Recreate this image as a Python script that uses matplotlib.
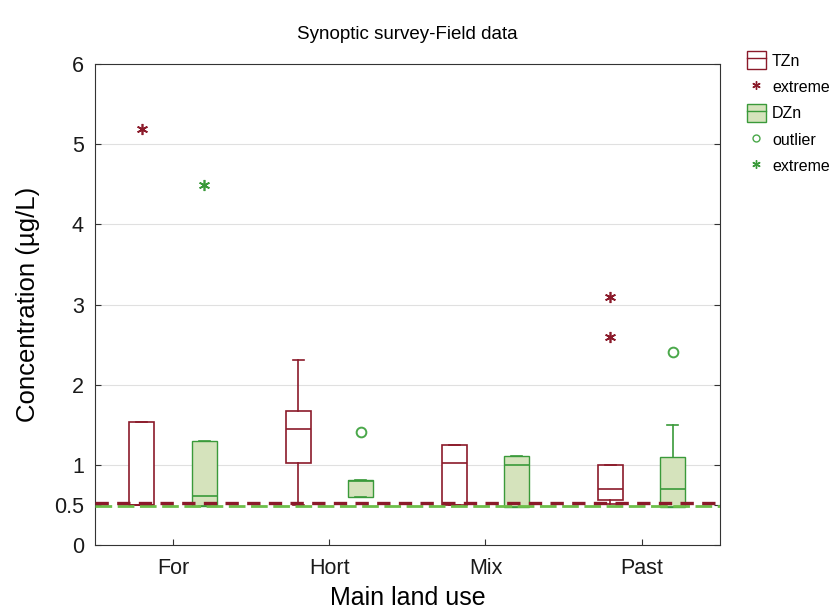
import matplotlib
matplotlib.use("Agg")
import matplotlib.pyplot as plt
from matplotlib.patches import Patch
from matplotlib.lines import Line2D
from matplotlib.legend_handler import HandlerTuple

plt.rcParams["font.family"] = ["Liberation Sans", "DejaVu Sans"]

categories = ["For", "Hort", "Mix", "Past"]

# box stats: (whislo, q1, med, q3, whishi)
tzn_stats = [
    (0.50, 0.50, 0.50, 1.53, 1.53),
    (0.50, 1.03, 1.45, 1.67, 2.31),
    (0.50, 0.50, 1.02, 1.25, 1.25),
    (0.52, 0.56, 0.70, 1.00, 1.00),
]
dzn_stats = [
    (0.49, 0.49, 0.61, 1.30, 1.30),
    (0.60, 0.60, 0.80, 0.81, 0.81),
    (0.48, 0.48, 1.00, 1.11, 1.11),
    (0.48, 0.48, 0.70, 1.10, 1.50),
]

tzn_extremes = [(0, 5.19), (3, 3.09), (3, 2.60)]
dzn_outliers = [(1, 1.41), (3, 2.41)]
dzn_extremes = [(0, 4.49)]

tzn_limit = 0.53
dzn_limit = 0.49

red = "#8b1a2a"
green = "#3a9a3a"
green_fill = "#d5e3bc"
ast = (6, 2, 0)
off = 0.2

fig = plt.figure(figsize=(8.34, 6.14), dpi=100)
ax = fig.add_axes([0.114, 0.112, 0.749, 0.784])


def make_stats(rows):
    return [dict(whislo=a, q1=b, med=c, q3=d, whishi=e, fliers=[]) for a, b, c, d, e in rows]


pos = range(len(categories))
ax.bxp(make_stats(tzn_stats), positions=[p + 0.5 - off for p in pos], widths=0.16,
       patch_artist=True, showfliers=False,
       boxprops=dict(facecolor="white", edgecolor=red, linewidth=1.2),
       medianprops=dict(color=red, linewidth=1.2),
       whiskerprops=dict(color=red, linewidth=1.2),
       capprops=dict(color=red, linewidth=1.2), capwidths=0.07)
ax.bxp(make_stats(dzn_stats), positions=[p + 0.5 + off for p in pos], widths=0.16,
       patch_artist=True, showfliers=False,
       boxprops=dict(facecolor=green_fill, edgecolor=green, linewidth=1.0),
       medianprops=dict(color=green, linewidth=1.2),
       whiskerprops=dict(color=green, linewidth=1.2),
       capprops=dict(color=green, linewidth=1.2), capwidths=0.07)

ax.axhline(dzn_limit, color="#6cbf4a", lw=2, ls=(0, (6, 2)), zorder=3)
ax.axhline(tzn_limit, color=red, lw=2.4, ls=(0, (4, 2.5)), zorder=3)

ax.plot([i + 0.5 - off for i, _ in tzn_extremes], [v for _, v in tzn_extremes],
        ls="none", marker=ast, ms=8, mec=red, mew=1.2)
ax.plot([i + 0.5 + off for i, _ in dzn_outliers], [v for _, v in dzn_outliers],
        ls="none", marker="o", ms=7, mfc="none", mec="#4aa84a", mew=1.4)
ax.plot([i + 0.5 + off for i, _ in dzn_extremes], [v for _, v in dzn_extremes],
        ls="none", marker=ast, ms=8, mec=green, mew=1.2)

for g in range(1, 6):
    ax.axhline(g, color="#e0e0e0", lw=0.8, zorder=0)

ax.set_xlim(0, len(categories))
ax.set_ylim(0, 6)
ax.set_xticks([p + 0.5 for p in pos])
ax.set_xticklabels(categories)
ax.set_yticks([0, 0.5, 1, 2, 3, 4, 5, 6])
ax.set_yticklabels(["0", "0.5", "1", "2", "3", "4", "5", "6"])
ax.tick_params(direction="in", labelsize=15.5, length=4, right=True, color="#333333",
               labelcolor="#1a1a1a")
ax.tick_params(axis="x", pad=9)
ax.tick_params(axis="y", pad=8)
for s in ax.spines.values():
    s.set_color("#333333")

ax.set_title("Synoptic survey-Field data", fontsize=13.5, pad=18)
ax.set_xlabel("Main land use", fontsize=18, labelpad=5)
ax.set_ylabel("Concentration (µg/L)", fontsize=18.5, labelpad=10)

handles = [
    (Patch(facecolor="white", edgecolor=red), Line2D([], [], color=red, lw=1)),
    Line2D([], [], ls="none", marker=ast, ms=6, mec=red, mew=1),
    (Patch(facecolor=green_fill, edgecolor=green), Line2D([], [], color=green, lw=1)),
    Line2D([], [], ls="none", marker="o", ms=5, mfc="none", mec="#4aa84a", mew=1),
    Line2D([], [], ls="none", marker=ast, ms=6, mec=green, mew=1),
]
labels = ["TZn", "extreme", "DZn", "outlier", "extreme"]
ax.legend(handles, labels, loc="upper left", bbox_to_anchor=(1.025, 1.05),
          frameon=False, fontsize=11.5, handlelength=1.2, handleheight=1.4,
          handletextpad=0.4, borderaxespad=0.3, labelspacing=0.5,
          handler_map={tuple: HandlerTuple(ndivide=1)})

fig.savefig("out.png", dpi=100)
